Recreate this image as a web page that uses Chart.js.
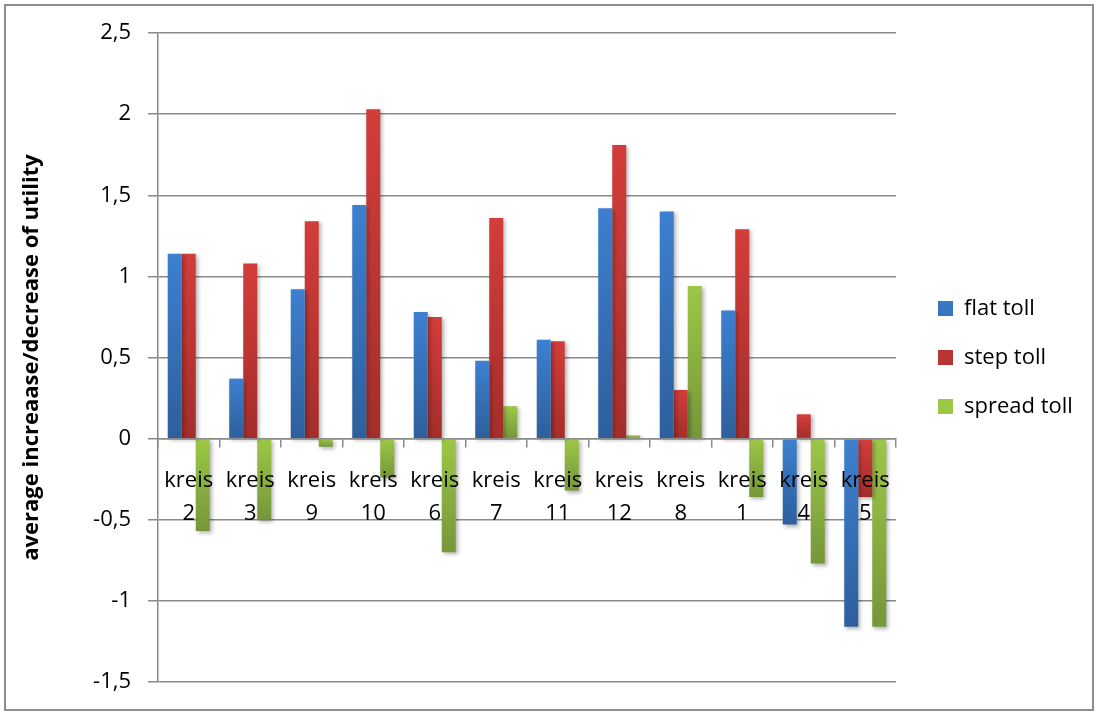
<!DOCTYPE html>
<html>
<head>
<meta charset="utf-8">
<script src="https://cdn.jsdelivr.net/npm/chart.js@4/dist/chart.umd.min.js"></script>
<style>
  html, body { margin: 0; padding: 0; background: #fff; }
  #wrap { position: relative; width: 1097px; height: 713px; }
  #frame {
    position: absolute; left: 4px; top: 4px; width: 1090px; height: 707px;
    box-sizing: border-box; border: 2px solid #8e8e8e; pointer-events: none;
  }
</style>
</head>
<body>
<div id="wrap">
  <canvas id="chart" width="1097" height="713"></canvas>
  <div id="frame"></div>
</div>
<script>
// --- DATA ---
const kreise = ['2', '3', '9', '10', '6', '7', '11', '12', '8', '1', '4', '5'];
const flatToll   = [1.14, 0.37, 0.92, 1.44, 0.78, 0.48, 0.61, 1.42, 1.40, 0.79, -0.53, -1.16];
const stepToll   = [1.14, 1.08, 1.34, 2.03, 0.75, 1.36, 0.60, 1.81, 0.30, 1.29, 0.15, -0.36];
const spreadToll = [-0.57, -0.50, -0.05, -0.24, -0.70, 0.20, -0.32, 0.02, 0.94, -0.36, -0.77, -1.16];
const yTicks = { min: -1.5, max: 2.5, step: 0.5 };

const labels = kreise.map(k => 'kreis ' + k);

// gradient per bar, light on top, darker at the bottom (like Excel)
function barFill(light, dark) {
    return (ctx) => {
        const chart = ctx.chart;
        const ys = chart.scales.y;
        if (ctx.type !== 'data' || !ys || !chart.chartArea) return light;
        const p0 = ys.getPixelForValue(0);
        const p1 = ys.getPixelForValue(ctx.parsed.y);
        const top = Math.min(p0, p1), bot = Math.max(p0, p1);
        if (bot - top < 2) return light;
        const g = chart.ctx.createLinearGradient(0, top, 0, bot);
        g.addColorStop(0, light);
        g.addColorStop(1, dark);
        return g;
    };
}

// soft shadow under the bars
const barShadow = {
    id: 'barShadow',
    beforeDatasetsDraw(chart) {
        const c = chart.ctx;
        c.save();
        c.shadowColor = 'rgba(0,0,0,0.3)';
        c.shadowBlur = 4;
        c.shadowOffsetX = 2;
        c.shadowOffsetY = 2;
    },
    afterDatasetsDraw(chart) {
        chart.ctx.restore();
    }
};

// legend sits a bit away from the plot
const legendGap = {
    id: 'legendGap',
    beforeInit(chart) {
        const lg = chart.legend;
        const fit = lg.fit;
        lg.fit = function () {
            fit.call(this);
            this.width = 1097 - 896;
        };
    },
    afterLayout(chart) {
        chart.legend.left += 15;
        chart.legend.right += 15;
    }
};

Chart.defaults.font.family = "'Open Sans', sans-serif";
Chart.defaults.color = '#000';

const gridGray = '#8a8a8a';

new Chart(document.getElementById('chart'), {
    type: 'bar',
    data: {
        labels: labels,
        datasets: [
            { label: 'flat toll',   data: flatToll,   backgroundColor: barFill('#3d80d0', '#2d5f9c') },
            { label: 'step toll',   data: stepToll,   backgroundColor: barFill('#d33d3a', '#a32e2b') },
            { label: 'spread toll', data: spreadToll, backgroundColor: barFill('#9dc746', '#76963a') }
        ]
    },
    options: {
        responsive: false,
        animation: false,
        devicePixelRatio: 1,
        categoryPercentage: 0.683,
        barPercentage: 1,
        layout: { padding: { left: 0, top: 33, right: 0, bottom: 31 } },
        plugins: {
            legend: {
                position: 'right',
                labels: {
                    boxWidth: 15,
                    boxHeight: 15,
                    padding: 27,
                    font: { size: 22 },
                    color: '#000'
                }
            },
            tooltip: { enabled: false }
        },
        scales: {
            x: {
                position: { y: 0 },
                grid: {
                    offset: true,
                    drawOnChartArea: false,
                    tickLength: 8,
                    color: gridGray,
                    lineWidth: 1.5,
                    z: 1
                },
                border: { color: gridGray, width: 1.5, z: 1 },
                ticks: {
                    z: 1,
                    autoSkip: false,
                    maxRotation: 0,
                    padding: 18,
                    font: { size: 22, lineHeight: 1.5 },
                    callback: function (val, i) { return ['kreis', kreise[i]]; }
                }
            },
            y: {
                min: yTicks.min,
                max: yTicks.max,
                afterFit: (s) => { s.width = 158; },
                grid: { color: gridGray, lineWidth: 1.5, tickLength: 10 },
                border: { color: gridGray, width: 1.5 },
                ticks: {
                    stepSize: yTicks.step,
                    padding: 17,
                    font: { size: 22 },
                    callback: (v) => String(Math.round(v * 10) / 10).replace('.', ',')
                },
                title: {
                    display: true,
                    text: 'average increaase/decrease of utility',
                    font: { size: 22, weight: 'bold' },
                    padding: { top: 19, bottom: 0 }
                }
            }
        }
    },
    plugins: [barShadow, legendGap]
});
</script>
</body>
</html>
